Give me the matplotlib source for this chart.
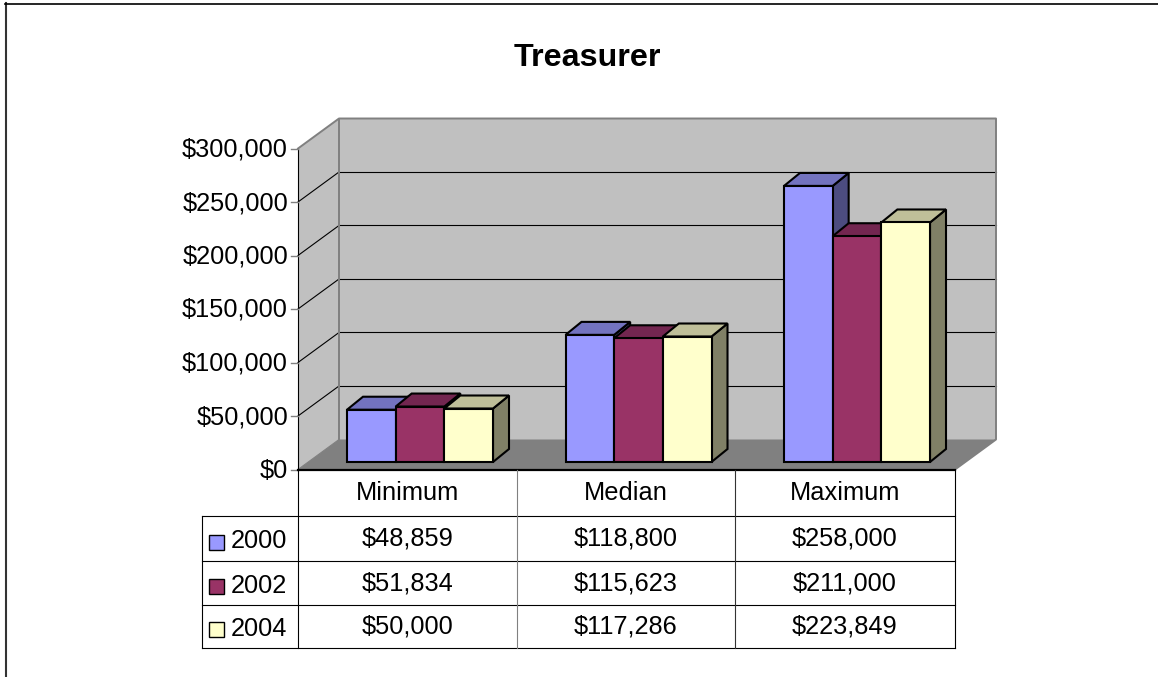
import matplotlib
matplotlib.use('Agg')
import matplotlib.pyplot as plt
from matplotlib.patches import Polygon, Rectangle

plt.rcParams['font.family'] = ['Liberation Sans', 'DejaVu Sans']

### DATA ###
categories = ['Minimum', 'Median', 'Maximum']
years = ['2000', '2002', '2004']
values_2000 = [48859, 118800, 258000]
values_2002 = [51834, 115623, 211000]
values_2004 = [50000, 117286, 223849]
y_ticks = [0, 50000, 100000, 150000, 200000, 250000, 300000]
colors = ['#9999FF', '#993366', '#FFFFCC']
top_colors = ['#7373BF', '#732650', '#BFBF99']
side_colors = ['#4C4C80', '#4C1A33', '#808066']

series = [values_2000, values_2002, values_2004]

# Everything is laid out in pixels of the final picture, y going down
W, H = 1158, 677
fig = plt.figure(figsize=(W / 100, H / 100), dpi=100)
ax = fig.add_axes([0, 0, 1, 1])
ax.set_xlim(0, W)
ax.set_ylim(H, 0)
ax.axis('off')

# Plot frame
front_left, front_right = 298, 955
y_zero, y_max = 469.5, 148.5
dx_wall, dy_wall = 41, -30
col_edges = [298, 517, 735, 955]
row_edges = [469.5, 516, 561, 605, 647.5]
label_size = 18.3

def val_y(v, base=y_zero):
    return base - v * (y_zero - y_max) / 300000

def poly(pts, fc, ec='none', lw=0, z=1):
    ax.add_patch(Polygon(pts, closed=True, facecolor=fc, edgecolor=ec, linewidth=lw,
                         joinstyle='miter', zorder=z))

# Outer border, only left and top show
ax.plot([6, 6], [H, 3], color='#333333', lw=1.5, zorder=1)
ax.plot([5, W], [3.8, 3.8], color='black', lw=1.2, zorder=1)

# Title
ax.text(587, 57.5, 'Treasurer', ha='center', va='center', fontsize=23.2, fontweight='bold')

### WALLS AND FLOOR ###
top = val_y(300000)
poly([(front_left, y_zero), (front_left, top), (front_left + dx_wall, top + dy_wall),
      (front_left + dx_wall, y_zero + dy_wall)], '#C0C0C0')
poly([(front_left + dx_wall, y_zero + dy_wall), (front_left + dx_wall, top + dy_wall),
      (front_right + dx_wall, top + dy_wall), (front_right + dx_wall, y_zero + dy_wall)], '#C0C0C0')
poly([(front_left, y_zero), (front_left + dx_wall, y_zero + dy_wall),
      (front_right + dx_wall, y_zero + dy_wall), (front_right, y_zero)], '#808080')

for tick in y_ticks[1:-1]:
    y = val_y(tick)
    ax.plot([front_left, front_left + dx_wall], [y, y + dy_wall], color='black', lw=0.8, zorder=2)
    ax.plot([front_left + dx_wall, front_right + dx_wall], [y + dy_wall - 0.5] * 2, color='black', lw=0.8, zorder=2)

# Grey wall outlines
ax.plot([front_left, front_left + dx_wall, front_right + dx_wall, front_right + dx_wall, front_right],
        [top, top + dy_wall, top + dy_wall, y_zero + dy_wall, y_zero], color='#808080', lw=1.4, zorder=2)
ax.plot([front_left + dx_wall] * 2, [top + dy_wall, y_zero + dy_wall], color='#808080', lw=1.4, zorder=2)
ax.plot([front_left, front_left + dx_wall], [y_zero, y_zero + dy_wall], color='#808080', lw=0.8, zorder=2)

# Value axis
ax.plot([front_left, front_left], [top, y_zero], color='black', lw=0.8, zorder=3)
for tick in y_ticks:
    y = val_y(tick)
    ax.plot([front_left - 7, front_left], [y, y], color='#808080', lw=1, zorder=3)
    ax.text(288, y + 1, '${:,}'.format(tick), ha='right', va='center', fontsize=label_size)

### BARS ###
bar_w = 48.67
bar_dx, bar_dy = 16, -13
bar_base = 462
cat_step = 218.5
for c in range(3):
    x0 = front_left + 49 + c * cat_step
    for s in range(3):
        v = series[s][c]
        x1 = x0 + s * bar_w
        x2 = x1 + bar_w
        y_top = val_y(v, bar_base)
        z = 5 + c * 3 + s
        poly([(x2, bar_base), (x2, y_top), (x2 + bar_dx, y_top + bar_dy), (x2 + bar_dx, bar_base + bar_dy)],
             side_colors[s], 'black', 1.5, z)
        poly([(x1, y_top), (x1 + bar_dx, y_top + bar_dy), (x2 + bar_dx, y_top + bar_dy), (x2, y_top)],
             top_colors[s], 'black', 1.5, z)
        poly([(x1, bar_base), (x1, y_top), (x2, y_top), (x2, bar_base)], colors[s], 'black', 1.5, z)

### DATA TABLE ###
table_left = 201.5
for i, y in enumerate(row_edges):
    lw = 1.6 if i == 0 else 0.8
    x_start = front_left if i == 0 else table_left
    ax.plot([x_start, col_edges[-1]], [y, y], color='black', lw=lw, zorder=30)
ax.plot([table_left, table_left], [row_edges[1], row_edges[-1]], color='black', lw=0.8, zorder=30)
ax.plot([col_edges[0]] * 2, [row_edges[0], row_edges[-1]], color='black', lw=0.8, zorder=30)
ax.plot([col_edges[3]] * 2, [row_edges[0], row_edges[-1]], color='black', lw=0.8, zorder=30)
ax.plot([col_edges[1]] * 2, [row_edges[0], row_edges[-1]], color='#808080', lw=0.8, zorder=30)
ax.plot([col_edges[2]] * 2, [row_edges[0], row_edges[-1]], color='#333333', lw=0.8, zorder=30)

for c, name in enumerate(categories):
    xc = (col_edges[c] + col_edges[c + 1]) / 2
    ax.text(xc, 493, name, ha='center', va='center', fontsize=label_size)
    for s in range(3):
        yc = (row_edges[s + 1] + row_edges[s + 2]) / 2
        ax.text(xc, yc, '${:,}'.format(series[s][c]), ha='center', va='center', fontsize=label_size)

for s, year in enumerate(years):
    yc = (row_edges[s + 1] + row_edges[s + 2]) / 2
    ax.add_patch(Rectangle((209, yc - 4), 15, 15, facecolor=colors[s], edgecolor='black', linewidth=1, zorder=31))
    ax.text(231, yc + 3, year, ha='left', va='center', fontsize=label_size)

fig.savefig('out.png', dpi=100)
